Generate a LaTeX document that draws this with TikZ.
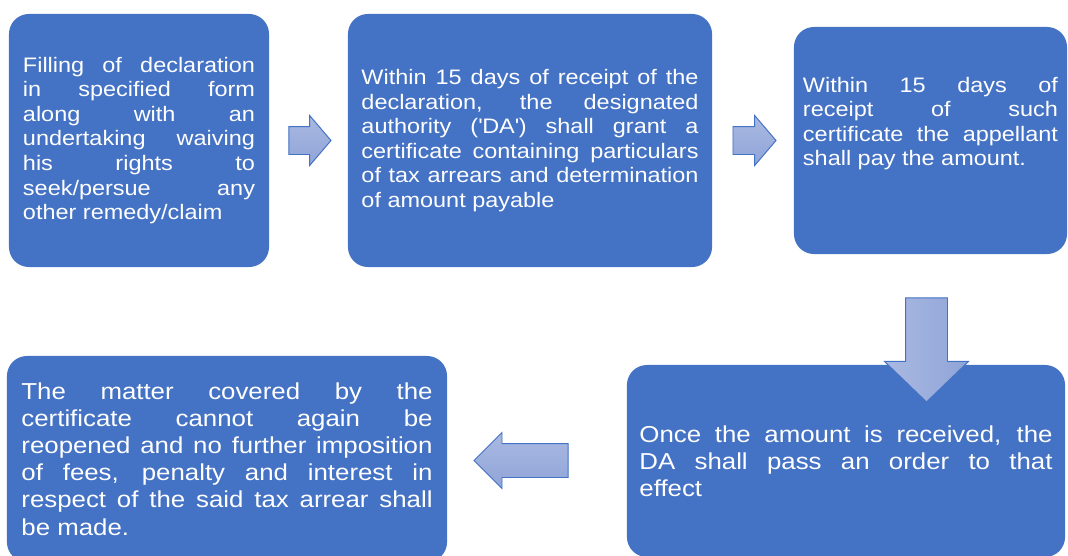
\documentclass[tikz,border=0pt]{standalone}
\usepackage{fontspec}
\setmainfont{Liberation Sans}[FakeStretch=1.12]
\usetikzlibrary{shapes.arrows}

\definecolor{boxblue}{HTML}{4472C4}
\definecolor{arrowlight}{HTML}{AAB9E2}
\definecolor{arrowdark}{HTML}{8FA4D7}

\tolerance=10000
\hbadness=10000
\hyphenpenalty=10000
\setlength{\parindent}{0pt}

\tikzset{
  stepbox/.style={fill=boxblue, text=white, rounded corners=0.5cm, inner sep=0pt, align=justify, font=\fontsize{14.9}{17.5}\selectfont},
  widebox/.style={stepbox, font=\fontsize{16.4}{19.3}\selectfont},
  blockarrow/.style={single arrow, draw=boxblue, line width=0.7pt, inner xsep=0pt, outer sep=0pt, top color=arrowlight, bottom color=arrowdark, anchor=tip}
}

\begin{document}
\begin{tikzpicture}[x=0.025cm, y=-0.025cm]
  \useasboundingbox (0,0) rectangle (1068,555);
  \node [stepbox, minimum width=6.5cm, minimum height=6.325cm, text width=5.8cm] (declare) at (139,140.5)
    {Filling of declaration \linebreak in specified form \linebreak along with an \linebreak undertaking waiving \linebreak his rights to \linebreak seek/persue any \linebreak other remedy/claim};
  \node [stepbox, minimum width=9.1cm, minimum height=6.325cm, text width=8.425cm] (grant) at (530,140.5)
    {Within 15 days of receipt of the \linebreak declaration, the designated \linebreak authority (\textquotesingle DA\textquotesingle) shall grant a \linebreak certificate containing particulars \linebreak of tax arrears and determination \linebreak of amount payable};
  \node [stepbox, minimum width=6.825cm, minimum height=5.675cm, text width=6.375cm] (pay) at (930.5,140.5)
    {Within 15 days of \linebreak receipt of such \linebreak certificate the appellant \linebreak shall pay the amount.\par\vspace*{24pt}};
  \node [widebox, minimum width=10.95cm, minimum height=4.8cm, text width=10.325cm] (order) at (846,461)
    {Once the amount is received, the \linebreak DA shall pass an order to that \linebreak effect};
  \node [widebox, minimum width=11cm, minimum height=5.15cm, text width=10.275cm] (final) at (227,459)
    {The matter covered by the \linebreak certificate cannot again be \linebreak reopened and no further imposition \linebreak of fees, penalty and interest in \linebreak respect of the said tax arrear shall \linebreak be made.};

  \node [blockarrow, minimum height=1.05cm, inner ysep=0.3375cm, single arrow head extend=0.275cm, single arrow tip angle=99] (go1) at (331,140.5) {};
  \node [blockarrow, minimum height=1.075cm, inner ysep=0.3375cm, single arrow head extend=0.275cm, single arrow tip angle=99] (go2) at (776,140.5) {};
  \node [blockarrow, rotate=-90, left color=arrowlight, right color=arrowdark, minimum height=2.6cm, inner ysep=0.5125cm, single arrow head extend=0.525cm, single arrow tip angle=92] (go3) at (926.5,402) {};
  \node [blockarrow, shape border rotate=180, minimum height=2.35cm, inner ysep=0.4125cm, single arrow head extend=0.275cm, single arrow tip angle=90] (go4) at (474,460.5) {};
\end{tikzpicture}
\end{document}
